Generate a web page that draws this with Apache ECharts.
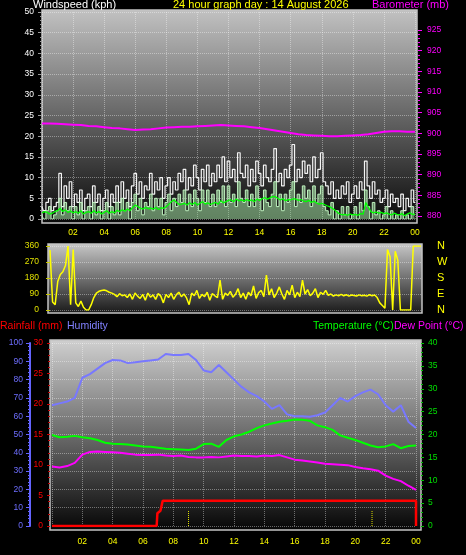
<!DOCTYPE html>
<html><head><meta charset="utf-8">
<script src="https://cdn.jsdelivr.net/npm/echarts@6/dist/echarts.min.js"></script>
<style>html,body{margin:0;padding:0;background:#000;overflow:hidden}#c{width:466px;height:555px}</style>
</head><body><div id="c"></div>
<script>
// ---------- tick labels ----------
const timeLabels = ['00','02','04','06','08','10','12','14','16','18','20','22','00'];
const compassLabels = ['N','E','S','W','N']; // 0, 90, 180, 270, 360

// ---------- wind (10-minute readings, kph) ----------
const windStepMin = 10;
const windGust = [
 3,2,4,5,2,3, 4,11,3,8,5,9, 3,6,4,7,2,5, 6,3,8,4,6,2, 5,7,3,6,4,8, 4,9,5,7,3,8,
 11,6,9,5,8,7, 11,6,9,7,10,5, 8,10,6,9,7,11, 9,12,7,10,8,13, 10,7,12,9,13,8, 11,9,13,10,15,9,
 14,10,12,9,16,11, 10,13,8,12,9,14, 11,8,13,10,9,12, 17,9,11,8,12,10, 13,18,9,12,10,14, 11,13,9,15,10,12,
 16,9,8,6,9,5, 7,5,8,6,9,4, 6,8,5,9,7,14, 8,5,9,6,7,4, 5,7,3,6,4,5, 3,6,2,5,3,7, 4];
const windSpeed = [
 1,0,2,3,0,1, 2,5,1,4,2,3, 0,3,1,4,0,2, 3,0,4,1,3,0, 2,4,0,3,1,4, 1,5,2,4,0,4,
 6,2,5,1,4,3, 6,2,5,3,5,1, 4,6,2,5,3,6, 4,7,2,6,3,7, 5,2,7,4,7,3, 6,3,7,4,8,3,
 8,4,6,3,9,5, 4,7,3,6,3,8, 5,2,7,4,3,6, 9,3,6,2,6,4, 7,9,3,6,4,8, 5,7,3,8,4,6,
 8,3,2,1,4,0, 2,0,3,1,3,0, 1,3,0,4,2,7, 3,0,4,1,2,0, 1,3,0,2,0,1, 0,2,0,1,0,3, 1];
const windAvg = [
 1.5,1.8,1.6,1.2,1.4,1.8, 2.0,2.6,1.8,2.2,1.6,1.9, 1.5,1.8,1.4,2.0,1.2,1.6, 1.8,1.4,2.0,1.5,1.8,1.2,
 1.6,2.0,1.4,1.8,1.5,2.1, 1.8,2.2,1.9,2.4,2.0,2.8, 3.4,3.0,2.6,2.4,2.8,2.5, 2.6,2.4,2.8,2.3,2.7,2.6,
 3.0,3.6,4.2,4.6,4.0,3.5, 3.6,3.8,3.4,3.9,3.5,4.0, 3.4,3.8,4.2,3.6,3.9,3.5, 3.8,4.0,3.6,4.4,3.9,4.2,
 4.5,4.6,4.2,4.8,4.4,4.6, 4.3,4.7,4.4,4.6,4.2,4.8, 4.5,4.9,5.2,4.8,5.1,5.4, 5.4,5.0,4.6,4.9,4.4,4.7,
 4.6,4.9,4.8,4.5,4.7,4.3, 4.2,4.5,4.0,4.3,3.9,3.6, 3.8,3.5,3.2,3.0,2.6,2.2, 1.6,1.2,1.0,1.1,0.9,1.2,
 1.0,1.1,0.9,1.3,1.2,4.0, 2.8,1.8,1.5,1.7,1.4,1.6, 1.3,1.5,1.2,1.0,1.4,1.1, 1.0,1.3,0.8,1.2,1.5,1.1, 1.2];

// ---------- wind direction (10-minute readings, degrees) ----------
const windDir = [
 337,45,30,160,200,215, 250,360,30,340,40,20, 50,15,0,0,30,70, 95,105,110,112,108,100,
 95,88,75,92,80,85, 70,90,60,95,78,65, 88,55,95,72,85,60, 92,78,40,88,70,95,
 60,85,100,75,90,68, 30,95,80,110,65,88, 75,100,55,92,80,70, 168,60,95,82,105,72,
 88,120,70,95,60,100, 80,135,65,98,110,75, 197,85,120,70,95,130, 90,60,110,85,140,70,
 100,75,168,90,115,80, 95,120,70,100,88,110, 82,90,78,85,80,88, 80,86,78,84,82,79,
 85,80,83,78,86,80, 84,70,40,25,10,340, 300,0,330,280,0,0, 0,0,0,360,360,360, 360];

// ---------- barometer (30-minute readings, mb) ----------
const baroStepMin = 30;
const baro = [
 902.4,902.4,902.3,902.2,902.1,902.0,901.8,901.7,901.5,901.3,901.2,901.0,900.8,900.9,901.0,901.2,
 901.4,901.5,901.6,901.6,901.7,901.8,901.9,902.0,901.9,901.8,901.7,901.5,901.3,901.0,900.7,900.4,
 900.1,899.8,899.6,899.5,899.4,899.3,899.3,899.4,899.5,899.6,899.8,900.1,900.4,900.5,900.5,900.4,900.4];

// ---------- temperature / humidity / dew point (30-minute readings) ----------
const thStepMin = 30;
const humidity = [
 66,67,68,70,81,83,86,89,90.7,90.5,89,89.5,90,90.5,91,94,93.5,93.5,94,90.7,85,84,88,84,
 80,76,73,71,68,64,66,61,60,60,59.7,60.5,62,66,70,68,71,73,74.5,72,66,62.5,66,57,53.5];
const temperature = [
 19.9,19.4,19.5,19.7,19.4,19.2,18.8,18.2,18.0,17.9,17.8,17.6,17.4,17.3,17.1,16.9,16.8,16.7,16.6,16.9,
 17.9,18.0,17.3,18.8,19.6,20.0,20.6,21.4,22.0,22.4,22.8,23.0,23.3,23.2,23.0,22.0,21.6,21.0,19.8,19.3,
 18.8,18.2,17.6,17.2,17.4,17.9,17.0,17.5,17.6];
const dewPoint = [
 13.0,12.8,13.1,13.8,15.6,16.2,16.3,16.2,16.1,16.0,15.8,15.6,15.5,15.5,15.6,15.4,15.3,15.4,15.1,15.0,
 15.0,15.1,15.0,15.2,15.4,15.3,15.3,15.2,15.4,15.3,15.5,15.0,14.5,14.3,14.1,13.9,13.6,13.5,13.4,13.3,
 12.9,12.6,12.4,12.1,11.0,10.3,9.8,8.8,7.9];

// ---------- rainfall (event readings) ----------
const rainTimes  = [0, 6.9, 6.95, 7.15, 7.3, 24, 24];
const rainValues = [0, 0, 2.1, 2.5, 4.15, 4.15, 0];

// ---------- yellow dotted markers ----------
const markerTimes = [9.0, 21.1];
const markerTop = 2.5;

// ====================================================
const FONT = '"Liberation Sans", Arial, sans-serif';
const pairs = (arr, stepMin) => arr.map((v, i) => [i * stepMin / 60, v]);
const timeFmt = v => v === 0 ? '' : timeLabels[v / 2];
const dotted = {show: true, lineStyle: {type: 'dotted', color: 'rgba(255,255,255,0.38)', width: 1}};
const noLine = {show: false, onZero: false};
const grad = (a, b) => new echarts.graphic.LinearGradient(0, 0, 0, 1, [{offset: 0, color: a}, {offset: 1, color: b}]);

const chart = echarts.init(document.getElementById('c'), null, {renderer: 'canvas'});

function box(x, y, w, h, c1, c2) {
  return {type: 'rect', z: -10, silent: true, shape: {x, y, width: w, height: h},
    style: {fill: grad(c1, c2), stroke: '#c4c4c4', lineWidth: 1.5}};
}
function txt(x, y, text, color, size) {
  return {type: 'text', z: 10, silent: true, x, y,
    style: {text, fill: color, font: size + 'px ' + FONT, align: 'left', verticalAlign: 'middle'}};
}

const lab = (color, extra) => Object.assign({color, fontSize: 8.5, fontFamily: FONT}, extra || {});

const option = {
  backgroundColor: '#000',
  animation: false,
  textStyle: {fontFamily: FONT},
  graphic: {elements: [
    box(42, 10, 375, 213, '#c2c2c2', '#080808'),
    box(48, 244, 374, 69, '#c8c8c8', '#181818'),
    box(50, 340, 371, 190, '#d0d0d0', '#050505'),
    txt(33, 4.5, 'Windspeed (kph)', '#ffffff', 11),
    txt(173, 4.5, '24 hour graph day : 14 August 2026', '#ffff00', 11),
    txt(372, 4.5, 'Barometer (mb)', '#ff00ff', 11),
    txt(0, 326, 'Rainfall (mm)', '#ff0000', 10.5),
    txt(67, 326, 'Humidity', '#8080ff', 10.5),
    txt(313, 326, 'Temperature (°C)', '#00ff00', 10.5),
    txt(394, 326, 'Dew Point (°C)', '#ff00ff', 10.5)
  ]},
  grid: [
    {left: 42, right: 51, top: 12, bottom: 336},
    {left: 42, right: 51, top: 30, bottom: 339},
    {left: 50, right: 45, top: 246, bottom: 245},
    {left: 52, right: 50, top: 343, bottom: 29}
  ],
  xAxis: [
    {type: 'value', gridIndex: 0, min: 0, max: 24, interval: 2,
     axisLine: noLine, axisTick: {show: false}, splitLine: dotted,
     axisLabel: lab('#ffff00', {formatter: timeFmt, margin: 9})},
    {type: 'value', gridIndex: 1, min: 0, max: 24, interval: 2, show: false, axisLine: noLine},
    {type: 'value', gridIndex: 2, min: 0, max: 24, interval: 2,
     axisLine: noLine, axisTick: {show: false}, axisLabel: {show: false}, splitLine: {show: false}},
    {type: 'value', gridIndex: 3, min: 0, max: 24, interval: 2,
     axisLine: noLine, axisTick: {show: false}, splitLine: dotted,
     axisLabel: lab('#ffff00', {formatter: timeFmt, margin: 11})}
  ],
  yAxis: [
    // wind speed
    {type: 'value', gridIndex: 0, position: 'left', min: 0, max: 50, interval: 5,
     axisLine: noLine,
     axisTick: {show: true, length: 4, lineStyle: {color: '#9a9a9a'}},
     minorTick: {show: true, splitNumber: 5, length: 2, lineStyle: {color: '#9a9a9a'}},
     splitLine: dotted, axisLabel: lab('#ffffff', {margin: 8})},
    // barometer
    {type: 'value', gridIndex: 1, position: 'right', offset: 3, min: 880, max: 925, interval: 5,
     axisLine: noLine,
     axisTick: {show: true, length: 4, lineStyle: {color: '#ff00ff'}},
     minorTick: {show: true, splitNumber: 5, length: 2, lineStyle: {color: '#ff00ff'}},
     splitLine: {show: false}, axisLabel: lab('#ff00ff', {margin: 9})},
    // direction
    {type: 'value', gridIndex: 2, position: 'left', min: 0, max: 360, interval: 90,
     axisLine: noLine,
     axisTick: {show: true, length: 4, lineStyle: {color: '#c8c800'}},
     splitLine: dotted, axisLabel: lab('#e0e000', {margin: 11})},
    {type: 'value', gridIndex: 2, position: 'right', min: 0, max: 360, interval: 90,
     axisLine: noLine, axisTick: {show: false}, splitLine: {show: false},
     axisLabel: {color: '#ffff00', fontSize: 11, fontFamily: FONT, margin: 16,
                 formatter: v => compassLabels[v / 90]}},
    // rainfall
    {type: 'value', gridIndex: 3, position: 'left', offset: 2, min: 0, max: 30, interval: 5,
     axisLine: noLine,
     axisTick: {show: true, length: 3, lineStyle: {color: '#d00000'}},
     minorTick: {show: true, splitNumber: 5, length: 2, lineStyle: {color: '#c00000'}},
     splitLine: {show: false}, axisLabel: lab('#ff0000', {margin: 7})},
    // humidity
    {type: 'value', gridIndex: 3, position: 'left', offset: 22, min: 0, max: 100, interval: 10,
     axisLine: {show: true, onZero: false, lineStyle: {color: '#6464ff', width: 2}},
     axisTick: {show: true, length: 4, lineStyle: {color: '#6464ff'}},
     minorTick: {show: true, splitNumber: 5, length: 2, lineStyle: {color: '#6464ff'}},
     splitLine: dotted, axisLabel: lab('#6e6eff', {margin: 7})},
    // temperature
    {type: 'value', gridIndex: 3, position: 'right', offset: 5, min: 0, max: 40, interval: 5,
     axisLine: noLine,
     axisTick: {show: true, length: 3, lineStyle: {color: '#00c000'}},
     minorTick: {show: true, splitNumber: 5, length: 2, lineStyle: {color: '#00c000'}},
     splitLine: {show: false}, axisLabel: lab('#00e000', {margin: 7})}
  ],
  series: [
    {name: 'Gust', type: 'line', xAxisIndex: 0, yAxisIndex: 0, step: 'middle', symbol: 'none',
     data: pairs(windGust, windStepMin), lineStyle: {color: '#f4f4f4', width: 1.2}},
    {name: 'Wind', type: 'line', xAxisIndex: 0, yAxisIndex: 0, step: 'middle', symbol: 'none',
     data: pairs(windSpeed, windStepMin), lineStyle: {color: '#c0f4c0', width: 1},
     areaStyle: {color: 'rgba(175,240,175,0.75)'}},
    {name: 'Average', type: 'line', xAxisIndex: 0, yAxisIndex: 0, symbol: 'none',
     data: pairs(windAvg, windStepMin), lineStyle: {color: '#00ff00', width: 1.3}},
    {name: 'Barometer', type: 'line', xAxisIndex: 1, yAxisIndex: 1, symbol: 'none',
     data: pairs(baro, baroStepMin), lineStyle: {color: '#ff00ff', width: 2}},
    {name: 'Direction', type: 'line', xAxisIndex: 2, yAxisIndex: 2, symbol: 'none',
     data: pairs(windDir, windStepMin), lineStyle: {color: '#ffff00', width: 1.5}},
    {name: 'Humidity', type: 'line', xAxisIndex: 3, yAxisIndex: 5, symbol: 'none',
     data: pairs(humidity, thStepMin), lineStyle: {color: '#7878ff', width: 2}},
    {name: 'Temperature', type: 'line', xAxisIndex: 3, yAxisIndex: 6, symbol: 'none',
     data: pairs(temperature, thStepMin), lineStyle: {color: '#00ff00', width: 2}},
    {name: 'Dew Point', type: 'line', xAxisIndex: 3, yAxisIndex: 6, symbol: 'none',
     data: pairs(dewPoint, thStepMin), lineStyle: {color: '#ff00ff', width: 2}},
    ...markerTimes.map(t => ({name: 'Marker', type: 'line', xAxisIndex: 3, yAxisIndex: 4, symbol: 'none',
     data: [[t, 0], [t, markerTop]], lineStyle: {color: '#e0e000', width: 1, type: 'dotted'}})),
    {name: 'Rainfall', type: 'line', xAxisIndex: 3, yAxisIndex: 4, symbol: 'none',
     data: rainTimes.map((t, i) => [t, rainValues[i]]), lineStyle: {color: '#ff0000', width: 2.5}}
  ]
};
chart.setOption(option);
</script>
</body></html>
